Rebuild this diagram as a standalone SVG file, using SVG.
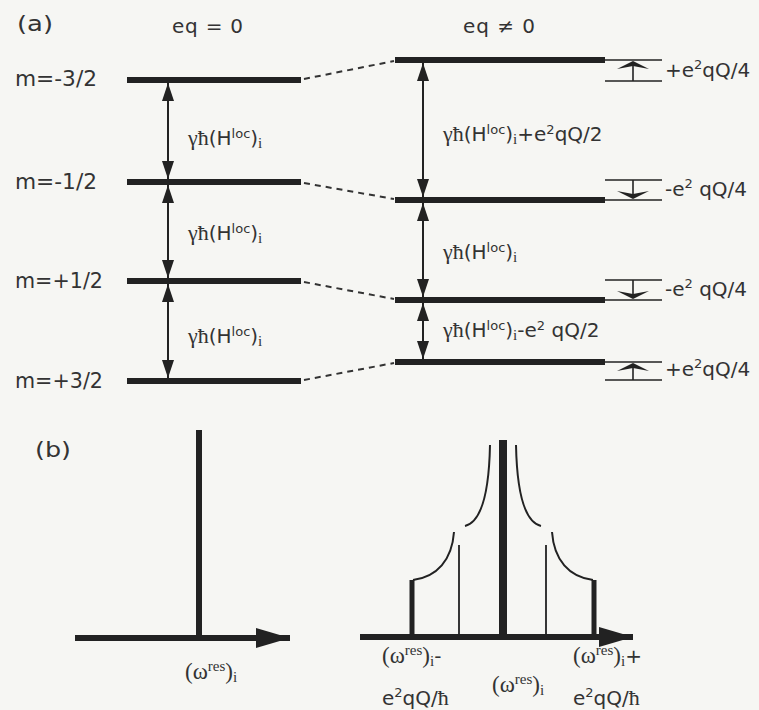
<svg xmlns="http://www.w3.org/2000/svg" width="759" height="710" viewBox="0 0 759 710">
<style>
.bg{fill:#f6f6f3}
.lvl{stroke:#222;stroke-width:6;fill:none}
.thin{stroke:#222;stroke-width:1.6;fill:none}
.dash{stroke:#333;stroke-width:2;stroke-dasharray:6 5;fill:none}
.arr{stroke:#222;stroke-width:2;fill:none}
.head{fill:#222}
.t{font-family:"DejaVu Sans","Liberation Sans",sans-serif;fill:#333}
.s{font-family:"Liberation Serif","DejaVu Serif",serif}
.axis{stroke:#222;stroke-width:6;fill:none}
.peak{stroke:#222;fill:none}
</style>
<defs>
<marker id="ah" viewBox="0 0 18 12" refX="18" refY="6" markerWidth="18" markerHeight="12" markerUnits="userSpaceOnUse" orient="auto-start-reverse">
<path d="M0,0 L18,6 L0,12 z" class="head"/>
</marker>
<marker id="ax" viewBox="0 0 34 20" refX="34" refY="10" markerWidth="34" markerHeight="20" markerUnits="userSpaceOnUse" orient="auto">
<path d="M0,0 L34,10 L0,20 z" class="head"/>
</marker>
</defs>
<rect class="bg" x="0" y="0" width="759" height="710"/>

<g id="panel-a-labels">
<text class="t" x="17" y="31" font-size="22" textLength="36" lengthAdjust="spacingAndGlyphs">(a)</text>
<text class="t" x="172" y="33" font-size="20" textLength="71">eq = 0</text>
<text class="t" x="463" y="33" font-size="20" textLength="72">eq ≠ 0</text>
<text class="t" x="15" y="86" font-size="21" textLength="82" lengthAdjust="spacingAndGlyphs">m=-3/2</text>
<text class="t" x="15" y="189" font-size="21" textLength="82" lengthAdjust="spacingAndGlyphs">m=-1/2</text>
<text class="t" x="15" y="288" font-size="21" textLength="88" lengthAdjust="spacingAndGlyphs">m=+1/2</text>
<text class="t" x="15" y="388" font-size="21" textLength="88" lengthAdjust="spacingAndGlyphs">m=+3/2</text>
</g>

<g id="levels-left">
<line class="lvl" x1="127" y1="80" x2="301" y2="80"/>
<line class="lvl" x1="127" y1="182" x2="301" y2="182"/>
<line class="lvl" x1="127" y1="281" x2="301" y2="281"/>
<line class="lvl" x1="127" y1="381" x2="301" y2="381"/>
</g>

<g id="levels-right">
<line class="lvl" x1="395" y1="60" x2="605" y2="60"/>
<line class="lvl" x1="395" y1="200" x2="605" y2="200"/>
<line class="lvl" x1="395" y1="300" x2="605" y2="300"/>
<line class="lvl" x1="395" y1="362" x2="605" y2="362"/>
</g>

<g id="connectors">
<line class="dash" x1="304" y1="79" x2="394" y2="61"/>
<line class="dash" x1="304" y1="183" x2="394" y2="199"/>
<line class="dash" x1="304" y1="282" x2="394" y2="299"/>
<line class="dash" x1="304" y1="380" x2="394" y2="363"/>
<line class="arr" x1="168" y1="83" x2="168" y2="179" marker-start="url(#ah)" marker-end="url(#ah)"/>
<line class="arr" x1="168" y1="185" x2="168" y2="278" marker-start="url(#ah)" marker-end="url(#ah)"/>
<line class="arr" x1="168" y1="284" x2="168" y2="378" marker-start="url(#ah)" marker-end="url(#ah)"/>
<line class="arr" x1="423" y1="63" x2="423" y2="197" marker-start="url(#ah)" marker-end="url(#ah)"/>
<line class="arr" x1="423" y1="203" x2="423" y2="297" marker-start="url(#ah)" marker-end="url(#ah)"/>
<line class="arr" x1="423" y1="303" x2="423" y2="359" marker-start="url(#ah)" marker-end="url(#ah)"/>
</g>

<g id="gap-labels">
<text class="t" x="188" y="145" font-size="20"><tspan class="s" font-size="22">γħ</tspan>(H<tspan font-size="13" dy="-7">loc</tspan><tspan dy="7">)</tspan><tspan class="s" font-size="15" dy="3">i</tspan></text>
<text class="t" x="188" y="240" font-size="20"><tspan class="s" font-size="22">γħ</tspan>(H<tspan font-size="13" dy="-7">loc</tspan><tspan dy="7">)</tspan><tspan class="s" font-size="15" dy="3">i</tspan></text>
<text class="t" x="188" y="343" font-size="20"><tspan class="s" font-size="22">γħ</tspan>(H<tspan font-size="13" dy="-7">loc</tspan><tspan dy="7">)</tspan><tspan class="s" font-size="15" dy="3">i</tspan></text>
<text class="t" x="443" y="141" font-size="20"><tspan class="s" font-size="22">γħ</tspan>(H<tspan font-size="13" dy="-7">loc</tspan><tspan dy="7">)</tspan><tspan class="s" font-size="15" dy="3">i</tspan><tspan dy="-3">+e</tspan><tspan font-size="13" dy="-7">2</tspan><tspan dy="7">qQ/2</tspan></text>
<text class="t" x="443" y="259" font-size="20"><tspan class="s" font-size="22">γħ</tspan>(H<tspan font-size="13" dy="-7">loc</tspan><tspan dy="7">)</tspan><tspan class="s" font-size="15" dy="3">i</tspan></text>
<text class="t" x="443" y="337" font-size="20"><tspan class="s" font-size="22">γħ</tspan>(H<tspan font-size="13" dy="-7">loc</tspan><tspan dy="7">)</tspan><tspan class="s" font-size="15" dy="3">i</tspan><tspan dy="-3">-e</tspan><tspan font-size="13" dy="-7">2</tspan><tspan dy="7"> qQ/2</tspan></text>
</g>

<g id="shift-top">
<line class="thin" x1="605" y1="60" x2="662" y2="60"/>
<line class="thin" x1="605" y1="81" x2="662" y2="81"/>
<line class="thin" x1="633" y1="81" x2="633" y2="62"/>
<path class="head" d="M617,69 L633,61 L649,69 L633,66 z"/>
<text class="t" x="665" y="77" font-size="20">+e<tspan font-size="13" dy="-8">2</tspan><tspan dy="8">qQ/4</tspan></text>
</g>
<g id="shift-m12">
<line class="thin" x1="605" y1="180" x2="662" y2="180"/>
<line class="thin" x1="605" y1="200" x2="662" y2="200"/>
<line class="thin" x1="633" y1="180" x2="633" y2="198"/>
<path class="head" d="M617,191 L633,199 L649,191 L633,194 z"/>
<text class="t" x="665" y="196" font-size="20">-e<tspan font-size="13" dy="-8">2</tspan><tspan dy="8"> qQ/4</tspan></text>
</g>
<g id="shift-p12">
<line class="thin" x1="605" y1="280" x2="662" y2="280"/>
<line class="thin" x1="605" y1="300" x2="662" y2="300"/>
<line class="thin" x1="633" y1="280" x2="633" y2="298"/>
<path class="head" d="M617,291 L633,299 L649,291 L633,294 z"/>
<text class="t" x="665" y="296" font-size="20">-e<tspan font-size="13" dy="-8">2</tspan><tspan dy="8"> qQ/4</tspan></text>
</g>
<g id="shift-p32">
<line class="thin" x1="605" y1="362" x2="662" y2="362"/>
<line class="thin" x1="605" y1="380" x2="662" y2="380"/>
<line class="thin" x1="633" y1="380" x2="633" y2="364"/>
<path class="head" d="M617,371 L633,363 L649,371 L633,368 z"/>
<text class="t" x="665" y="376" font-size="20">+e<tspan font-size="13" dy="-8">2</tspan><tspan dy="8">qQ/4</tspan></text>
</g>

<g id="panel-b-left">
<text class="t" x="35" y="457" font-size="22" textLength="36" lengthAdjust="spacingAndGlyphs">(b)</text>
<line class="axis" x1="75" y1="638" x2="290" y2="638" marker-end="url(#ax)"/>
<line class="peak" stroke-width="6" x1="199" y1="430" x2="199" y2="636"/>
<text class="t s" x="185" y="679" font-size="23">(ω<tspan font-size="15" dy="-8">res</tspan><tspan dy="8">)</tspan><tspan font-size="15" dy="3">i</tspan></text>
</g>

<g id="panel-b-right">
<line class="axis" x1="360" y1="637" x2="633" y2="637" marker-end="url(#ax)"/>
<line class="peak" stroke-width="8" x1="503" y1="440" x2="503" y2="635"/>
<line class="peak" stroke-width="5" x1="412" y1="580" x2="412" y2="635"/>
<line class="peak" stroke-width="5" x1="594" y1="580" x2="594" y2="635"/>
<line class="peak" stroke-width="1.8" x1="459" y1="545" x2="459" y2="635"/>
<line class="peak" stroke-width="1.8" x1="546" y1="545" x2="546" y2="635"/>
<path class="peak" stroke-width="2" d="M413,580 C437,577 452,560 454,532"/>
<path class="peak" stroke-width="2" d="M465,526 C481,522 489,495 490,445"/>
<path class="peak" stroke-width="2" d="M516,445 C517,495 525,522 541,526"/>
<path class="peak" stroke-width="2" d="M552,532 C554,560 569,577 593,580"/>
<text class="t" x="382" y="663" font-size="20"><tspan class="s" font-size="23">(ω</tspan><tspan class="s" font-size="15" dy="-8">res</tspan><tspan class="s" font-size="23" dy="8">)</tspan><tspan class="s" font-size="15" dy="3">i</tspan><tspan dy="-3">-</tspan></text>
<text class="t" x="382" y="705" font-size="20">e<tspan font-size="13" dy="-8">2</tspan><tspan dy="8">qQ/</tspan><tspan class="s" font-size="22">ħ</tspan></text>
<text class="t s" x="492" y="692" font-size="23">(ω<tspan font-size="15" dy="-8">res</tspan><tspan dy="8">)</tspan><tspan font-size="15" dy="3">i</tspan></text>
<text class="t" x="573" y="663" font-size="20"><tspan class="s" font-size="23">(ω</tspan><tspan class="s" font-size="15" dy="-8">res</tspan><tspan class="s" font-size="23" dy="8">)</tspan><tspan class="s" font-size="15" dy="3">i</tspan><tspan dy="-3">+</tspan></text>
<text class="t" x="573" y="705" font-size="20">e<tspan font-size="13" dy="-8">2</tspan><tspan dy="8">qQ/</tspan><tspan class="s" font-size="22">ħ</tspan></text>
</g>
</svg>
